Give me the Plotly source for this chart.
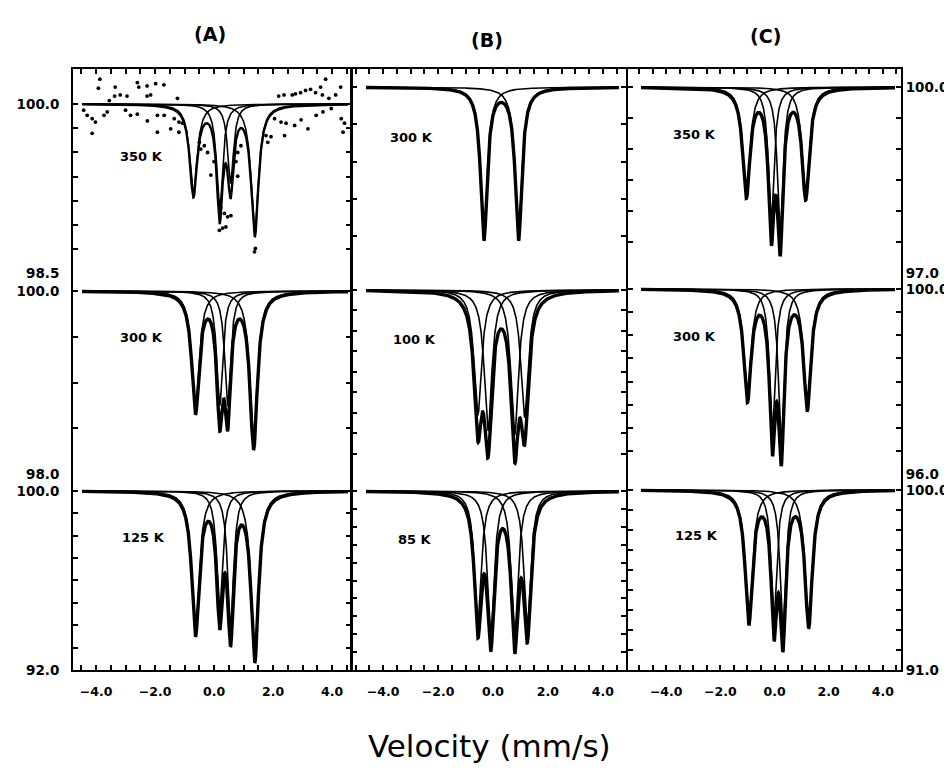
import numpy as np
import plotly.graph_objects as go

W, H = 952, 772

column_labels = ["(A)", "(B)", "(C)"]
temperature_labels = [["350 K", "300 K", "125 K"],
                      ["300 K", "100 K", "85 K"],
                      ["350 K", "300 K", "125 K"]]

# velocity axis (mm/s)
x_ranges = [[-4.78, 4.64], [-5.13, 4.84], [-5.41, 4.67]]
data_span = [[-4.47, 4.54], [-4.62, 4.58], [-4.93, 4.45]]
x_label_values = [-4.0, -2.0, 0.0, 2.0, 4.0]

# transmission axes (%), [column][row]
y_low = [[98.5, 98.0, 92.0], [95.0, 91.0, 90.0], [97.0, 96.0, 91.0]]
y_top = [[100.307, 100.195, 100.75], [100.48, 100.82, 100.94], [100.287, 100.34, 100.79]]
y_step = [[0.2142857, 0.5, 1.0], [1.0, 1.0, 1.0], [0.5, 0.5, 1.0]]
y_labelled = [True, False, True]

# Lorentzian sub-spectra: centre (mm/s), depth (%), FWHM (mm/s)
A350_center = [-0.70, 0.19, 0.56, 1.38]
A350_depth = [0.80, 0.95, 0.70, 1.15]
A350_width = [0.30, 0.24, 0.24, 0.30]
A300_center = [-0.63, 0.19, 0.46, 1.34]
A300_depth = [1.30, 1.25, 1.25, 1.69]
A300_width = [0.30, 0.24, 0.24, 0.30]
A125_center = [-0.63, 0.19, 0.56, 1.38]
A125_depth = [6.30, 5.30, 6.10, 7.45]
A125_width = [0.30, 0.24, 0.24, 0.30]

B300_center = [-0.33, 0.93]
B300_depth = [4.07, 4.07]
B300_width = [0.29, 0.29]
B100_center = [-0.55, -0.18, 0.79, 1.15]
B100_depth = [6.10, 6.89, 7.08, 6.20]
B100_width = [0.33, 0.33, 0.33, 0.33]
B85_center = [-0.55, -0.08, 0.79, 1.25]
B85_depth = [7.32, 7.96, 8.04, 7.55]
B85_width = [0.30, 0.30, 0.30, 0.30]

C350_center = [-1.04, -0.12, 0.21, 1.15]
C350_depth = [1.72, 2.18, 2.37, 1.75]
C350_width = [0.32, 0.25, 0.25, 0.32]
C300_center = [-1.00, -0.08, 0.25, 1.21]
C300_depth = [2.35, 3.08, 3.33, 2.53]
C300_width = [0.32, 0.25, 0.25, 0.32]
C125_center = [-0.95, -0.02, 0.31, 1.26]
C125_depth = [6.55, 6.37, 7.00, 6.70]
C125_width = [0.32, 0.25, 0.25, 0.32]

spectra = [
    [(A350_center, A350_depth, A350_width), (A300_center, A300_depth, A300_width), (A125_center, A125_depth, A125_width)],
    [(B300_center, B300_depth, B300_width), (B100_center, B100_depth, B100_width), (B85_center, B85_depth, B85_width)],
    [(C350_center, C350_depth, C350_width), (C300_center, C300_depth, C300_width), (C125_center, C125_depth, C125_width)],
]

# scattered data points of the noisy 350 K spectrum in (A)
A350_pts_v = [-3.87, -3.92, -3.35, -3.18, -3.37, -2.95, -2.60, -2.55, -2.27, -2.15, -1.98, -1.70, -2.27, -1.24, -3.55,
              2.19, 2.37, 2.65, 2.76, 2.93, 3.10, 3.27, 3.44, 3.61, 3.78, 3.67, 3.89, 4.12, 4.29,
              -4.42, -4.30, -4.13, -4.02, -3.73, -3.62, -3.00, -2.83, -2.60, -2.26, -1.92, -1.69, -4.13, -1.92, -1.47,
              -1.35, -1.19, -1.07, -1.19,
              2.05, 2.27, 2.44, 2.39, 2.73, 2.95, 3.18, 3.46, 3.69, 3.97, 4.31, 4.42, 4.37, 1.82, 1.93, 1.76,
              -0.50, -0.45, -0.33, -0.22, -0.11, 0.00, 0.18, 0.23, 0.35, 0.46, 0.57, 0.29, 0.18, 0.40,
              0.91, 0.80, 0.74, 0.80, 1.37, 1.40]
A350_pts_t = [100.22, 100.14, 100.15, 100.08, 100.07, 100.07, 100.19, 100.15, 100.16, 100.08, 100.18, 100.17, 100.07, 100.05, 100.03,
              100.07, 100.08, 100.08, 100.09, 100.10, 100.12, 100.13, 100.10, 100.15, 100.22, 100.08, 100.05, 100.08, 100.15,
              99.945, 99.90, 99.87, 99.84, 99.90, 99.93, 99.945, 99.90, 99.91, 99.85, 99.90, 99.90, 99.74, 99.75, 99.78,
              99.87, 99.84, 99.83, 99.75,
              99.87, 99.84, 99.83, 99.72, 99.81, 99.86, 99.78, 99.90, 99.93, 99.96, 99.87, 99.83, 99.75, 99.66, 99.71, 99.72,
              99.66, 99.60, 99.63, 99.57, 99.37, 99.49, 99.14, 99.08, 99.03, 99.00, 99.01, 98.90, 98.88, 98.91,
              99.63, 99.57, 99.49, 99.36, 98.69, 98.72]

col_dom = [[65 / W, 343 / W], [344 / W, 618 / W], [620 / W, 893 / W]]
row_dom = [[1 - 268 / H, 1 - 62 / H], [1 - 471 / H, 1 - 268 / H], [1 - 669 / H, 1 - 471 / H]]

tick_font = dict(family="DejaVu Sans", size=13.5, color="black", weight="bold")
xtick_font = dict(family="DejaVu Sans", size=12.5, color="black", weight="bold")


def lorentz(v, c, d, g):
    return d / (1.0 + ((v - c) / (g / 2.0)) ** 2)


fig = go.Figure()
layout = {}

for ci in range(3):
    for ri in range(3):
        k = ci * 3 + ri + 1
        xname = "x" if k == 1 else f"x{k}"
        yname = "y" if k == 1 else f"y{k}"
        centers, depths, widths = spectra[ci][ri]
        v = np.linspace(data_span[ci][0], data_span[ci][1], 1600)
        total = np.zeros_like(v)
        for c, d, g in zip(centers, depths, widths):
            comp = lorentz(v, c, d, g)
            total += comp
            fig.add_trace(go.Scatter(x=v, y=100 - comp, mode="lines",
                                     line=dict(color="black", width=1.6),
                                     xaxis=xname, yaxis=yname, hoverinfo="skip", showlegend=False))
        noisy = (ci == 0 and ri == 0)
        fig.add_trace(go.Scatter(x=v, y=100 - total, mode="lines",
                                 line=dict(color="black", width=2.4 if noisy else 3.4),
                                 xaxis=xname, yaxis=yname, hoverinfo="skip", showlegend=False))
        if noisy:
            fig.add_trace(go.Scatter(x=A350_pts_v, y=A350_pts_t, mode="markers",
                                     marker=dict(color="black", size=3.8),
                                     xaxis=xname, yaxis=yname, hoverinfo="skip", showlegend=False))

        # x axis
        lo, hi = x_ranges[ci]
        xt = [t / 2 for t in range(-10, 11) if lo <= t / 2 <= hi]
        xtext = [f"{t:.1f}".replace("-", "\u2212") if t in x_label_values else "" for t in xt]
        xa = dict(domain=col_dom[ci], range=x_ranges[ci], anchor=yname,
                  showgrid=False, zeroline=False, fixedrange=True)
        if ri == 0:
            xa.update(side="top", showline=True, linecolor="black", linewidth=2,
                      ticks="inside", ticklen=5, tickwidth=1.5, tickcolor="black",
                      tickvals=xt, showticklabels=False)
        elif ri == 2:
            xa.update(side="bottom", showline=True, linecolor="black", linewidth=2,
                      ticks="inside", ticklen=5, tickwidth=1.5, tickcolor="black",
                      tickvals=xt, ticktext=xtext, tickfont=xtick_font, ticklabelstandoff=9)
        else:
            xa.update(visible=False)
        layout["xaxis" if k == 1 else f"xaxis{k}"] = xa

        # y axis
        ylo = y_low[ci][ri]
        step = y_step[ci][ri]
        n = int(round((100.0 - ylo) / step))
        yt = [round(100.0 - i * step, 6) for i in range(n + 1)]
        ytext = [f"{t:.1f}" if (i == 0 or i == n) else "" for i, t in enumerate(yt)]
        ya = dict(domain=row_dom[ri], range=[ylo, y_top[ci][ri]], anchor=xname,
                  side="right" if ci == 2 else "left",
                  showline=True, mirror="ticks", linecolor="black", linewidth=2,
                  ticks="inside", ticklen=5, tickwidth=1.5, tickcolor="black",
                  tickvals=yt, ticktext=ytext, tickfont=tick_font,
                  showticklabels=y_labelled[ci], ticklabelstandoff=0 if ci == 2 else 9,
                  showgrid=False, zeroline=False, fixedrange=True)
        layout["yaxis" if k == 1 else f"yaxis{k}"] = ya

annotations = []
col_label_pos = [(202, 26), (479, 32), (757, 28)]
for (px, py), txt in zip(col_label_pos, column_labels):
    annotations.append(dict(x=px / W, y=1 - py / H, xref="paper", yref="paper", text=txt, showarrow=False,
                            font=dict(family="DejaVu Sans", size=19, color="black", weight="bold"),
                            xanchor="center", yanchor="middle"))

temp_pos = [[(110, 150), (110, 333), (112, 535)],
            [(380, 131), (383, 335), (388, 537)],
            [(663, 128), (663, 332), (665, 533)]]
for ci in range(3):
    for ri in range(3):
        px, py = temp_pos[ci][ri]
        annotations.append(dict(x=px / W, y=1 - py / H, xref="paper", yref="paper",
                                text=temperature_labels[ci][ri], showarrow=False,
                                font=dict(family="DejaVu Sans", size=13, color="black", weight="bold"),
                                xanchor="left", yanchor="middle"))

annotations.append(dict(x=481 / W, y=1 - 746 / H, xref="paper", yref="paper", text="Velocity (mm/s)",
                        showarrow=False, font=dict(family="DejaVu Sans", size=31, color="black"),
                        xanchor="center", yanchor="middle"))

fig.update_layout(width=W, height=H, margin=dict(l=0, r=0, t=0, b=0),
                  paper_bgcolor="white", plot_bgcolor="white",
                  showlegend=False, annotations=annotations, **layout)

fig.write_html("out.html")
